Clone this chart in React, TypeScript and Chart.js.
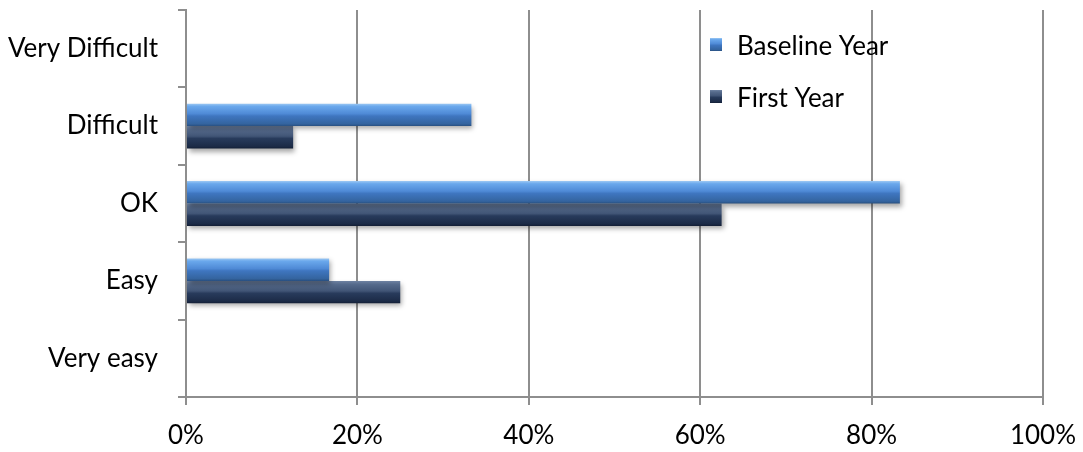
import React, { useEffect, useRef } from 'react';
import { Chart, registerables } from 'chart.js';

Chart.register(...registerables);

const categories = ['Very Difficult', 'Difficult', 'OK', 'Easy', 'Very easy'];
const baselineYear = [0, 33.3, 83.3, 16.7, 0];
const firstYear = [0, 12.5, 62.5, 25, 0];
const seriesNames = ['Baseline Year', 'First Year'];
const xTickStep = 20;
const xMax = 100;

const FONT = 'Lato, "Liberation Sans", sans-serif';
const FONT_SIZE = 26;
const CAT_PCT = 0.58;
const GRID = '#8e8e8e';

const blueStops: [number, string][] = [
  [0, '#9cc8f3'],
  [0.12, '#6aa8ec'],
  [0.45, '#4f8ad6'],
  [0.55, '#3f76c0'],
  [0.9, '#34649f'],
  [1, '#284f80'],
];
const navyStops: [number, string][] = [
  [0, '#6f83a3'],
  [0.15, '#566b8c'],
  [0.45, '#415576'],
  [0.55, '#283b5c'],
  [0.9, '#1c2b47'],
  [1, '#131f36'],
];

function barGradient(stops: [number, string][]) {
  return (ctx: any) => {
    const chart = ctx.chart;
    const y = chart.scales && chart.scales.y;
    if (!chart.chartArea || !y || ctx.type !== 'data') return stops[2][1];
    const band = y.getPixelForValue(1) - y.getPixelForValue(0);
    const h = (band * CAT_PCT) / 2;
    const c = y.getPixelForValue(ctx.dataIndex);
    const top = c - (band * CAT_PCT) / 2 + ctx.datasetIndex * h;
    const g = chart.ctx.createLinearGradient(0, top, 0, top + h);
    stops.forEach(([o, col]) => g.addColorStop(o, col));
    return g;
  };
}

const shadowPlugin = {
  id: 'barShadow',
  beforeDatasetsDraw(chart: any) {
    const ctx = chart.ctx;
    ctx.save();
    ctx.shadowColor = 'rgba(0,0,0,0.35)';
    ctx.shadowBlur = 5;
    ctx.shadowOffsetX = 2;
    ctx.shadowOffsetY = 3;
  },
  afterDatasetsDraw(chart: any) {
    chart.ctx.restore();
  },
};

const legendPlugin = {
  id: 'customLegend',
  afterDatasetsDraw(chart: any) {
    const ctx = chart.ctx;
    const items = [
      { label: seriesNames[0], stops: blueStops, y: 47 },
      { label: seriesNames[1], stops: navyStops, y: 99 },
    ];
    ctx.save();
    ctx.font = `${FONT_SIZE}px ${FONT}`;
    ctx.textBaseline = 'middle';
    ctx.textAlign = 'left';
    items.forEach((it) => {
      const bx = 710;
      const by = it.y - 9;
      const g = ctx.createLinearGradient(0, by, 0, by + 13);
      it.stops.forEach(([o, col]) => g.addColorStop(o, col));
      ctx.fillStyle = g;
      ctx.fillRect(bx, by, 12, 13);
      ctx.fillStyle = '#000';
      ctx.fillText(it.label, 737, it.y);
    });
    ctx.restore();
  },
};

export default function App() {
  const ref = useRef<HTMLCanvasElement | null>(null);

  useEffect(() => {
    if (!ref.current) return;
    const chart = new Chart(ref.current, {
      type: 'bar',
      data: {
        labels: categories,
        datasets: [
          {
            label: seriesNames[0],
            data: baselineYear,
            backgroundColor: barGradient(blueStops) as any,
            borderWidth: 0,
            categoryPercentage: CAT_PCT,
            barPercentage: 1,
          },
          {
            label: seriesNames[1],
            data: firstYear,
            backgroundColor: barGradient(navyStops) as any,
            borderWidth: 0,
            categoryPercentage: CAT_PCT,
            barPercentage: 1,
          },
        ],
      },
      options: {
        indexAxis: 'y',
        animation: false,
        responsive: false,
        layout: { padding: { top: 10, right: 40, left: 0, bottom: 0 } },
        plugins: {
          legend: { display: false },
          tooltip: { enabled: false },
        },
        scales: {
          x: {
            min: 0,
            max: xMax,
            ticks: {
              stepSize: xTickStep,
              callback: (v: any) => `${v}%`,
              font: { family: FONT, size: FONT_SIZE },
              color: '#000',
              padding: 15,
              maxRotation: 0,
            },
            grid: {
              color: GRID,
              lineWidth: 2,
              tickLength: 8,
              drawOnChartArea: true,
            },
            border: { display: true, color: GRID, width: 2 },
            afterFit: (s: any) => {
              s.height = 55;
              s.paddingLeft = 0;
              s.paddingRight = 0;
              s.paddingTop = 0;
              s.paddingBottom = 0;
            },
          },
          y: {
            ticks: {
              font: { family: FONT, size: FONT_SIZE },
              color: '#000',
              padding: 20,
            },
            grid: {
              offset: true,
              color: GRID,
              lineWidth: 2,
              tickLength: 8,
              drawOnChartArea: false,
            },
            border: { display: true, color: GRID, width: 2 },
            afterFit: (s: any) => {
              s.width = 186;
              s.paddingLeft = 0;
              s.paddingRight = 0;
              s.paddingTop = 0;
              s.paddingBottom = 0;
            },
          },
        },
      },
      plugins: [shadowPlugin, legendPlugin],
    });
    return () => chart.destroy();
  }, []);

  return (
    <div style={{ position: 'absolute', left: 0, top: 0, width: 1083, height: 452, background: '#fff' }}>
      <canvas ref={ref} width={1083} height={452} />
    </div>
  );
}
